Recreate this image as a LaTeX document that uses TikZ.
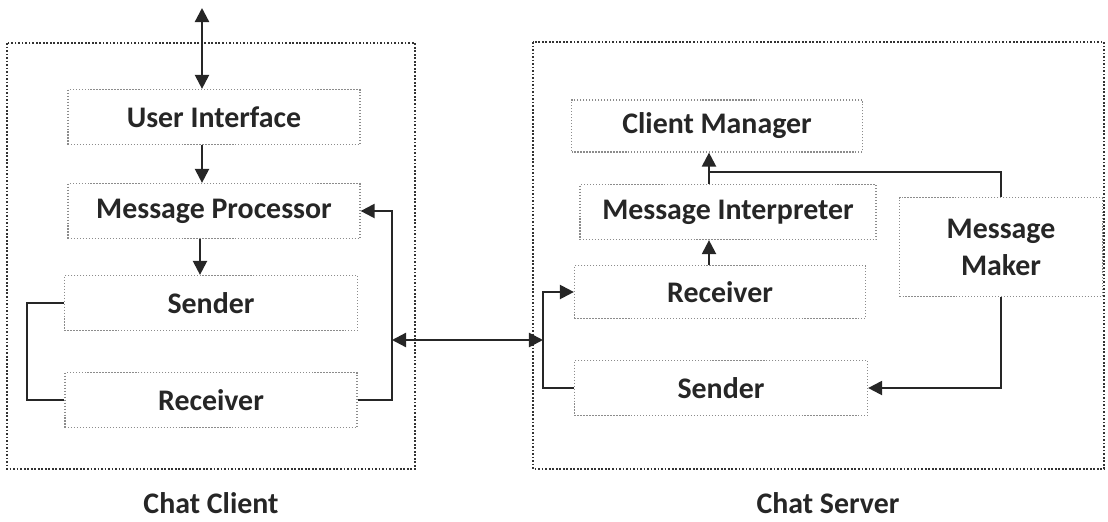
\documentclass[tikz,border=0pt]{standalone}
\usepackage{fontspec}
\setmainfont{Carlito}
\usetikzlibrary{arrows.meta}

\tikzset{
  part/.style={draw=black!45, densely dotted, line width=0.7pt, fill=white,
    font=\fontsize{17}{19}\selectfont\bfseries, text=black!85, align=center,
    inner sep=0pt},
  frame/.style={draw=black!80, densely dotted, line width=1pt},
  conn/.style={draw=black!85, line width=1.3pt},
  tip/.style={-{Triangle[length=8pt,width=8pt]}},
  caption/.style={font=\fontsize{17}{19}\selectfont\bfseries, text=black!85}
}

\begin{document}
\begin{tikzpicture}[x=0.02cm, y=-0.02cm]

      \useasboundingbox (0,0) rectangle (1108,521);

      \draw[frame] (7,43) rectangle (415,469);
      \draw[frame] (533,42) rectangle (1104,469);

      \node[caption] (client) at (211,503) {Chat Client};
      \node[caption] (server) at (828,503) {Chat Server};

      % chat client
      \node[part, minimum width=292*0.02cm, minimum height=55*0.02cm] (ui)    at (214,117) {User Interface};
      \node[part, minimum width=292*0.02cm, minimum height=55*0.02cm] (mp)    at (214,211) {Message Processor};
      \node[part, minimum width=293*0.02cm, minimum height=55*0.02cm] (csend) at (211,303) {Sender};
      \node[part, minimum width=292*0.02cm, minimum height=55*0.02cm] (crecv) at (211,400) {Receiver};

      % chat server
      \node[part, minimum width=291*0.02cm, minimum height=52*0.02cm] (cm)    at (717,126) {Client Manager};
      \node[part, minimum width=296*0.02cm, minimum height=55*0.02cm] (mi)    at (728,212) {Message Interpreter};
      \node[part, minimum width=203*0.02cm, minimum height=99*0.02cm] (mm)    at (1001,247) {Message\\[2pt]Maker};
      \node[part, minimum width=291*0.02cm, minimum height=53*0.02cm] (srecv) at (720,292) {Receiver};
      \node[part, minimum width=293*0.02cm, minimum height=55*0.02cm] (ssend) at (721,388) {Sender};

      \coordinate (top)  at (202,8);
      \coordinate (cbus) at (392,340);
      \coordinate (sbus) at (543,340);
      \coordinate (join) at (709,172);

      \draw[conn, {Triangle[length=8pt,width=8pt]}-{Triangle[length=8pt,width=8pt]}] (top) -- (ui.north -| top);
      \draw[conn, tip] (ui.south -| top) -- (mp.north -| top);
      \draw[conn, tip] (mp.south -| 200,0) -- (csend.north -| 200,0);
      \draw[conn] (csend.west) -- ++(-37,0) |- (crecv.west);
      \draw[conn, tip] (crecv.east) -| (cbus) |- (mp.east);

      \draw[conn, {Triangle[length=8pt,width=8pt]}-{Triangle[length=8pt,width=8pt]}] (cbus) -- (sbus);

      \draw[conn, tip] (ssend.west) -| (sbus) |- (srecv.west);
      \draw[conn, tip] (srecv.north -| join) -- (mi.south -| join);
      \draw[conn, tip] (mi.north -| join) -- (cm.south -| join);
      \draw[conn] (mm.north) |- (join);
      \draw[conn, tip] (mm.south) |- (ssend.east);

\end{tikzpicture}
\end{document}
